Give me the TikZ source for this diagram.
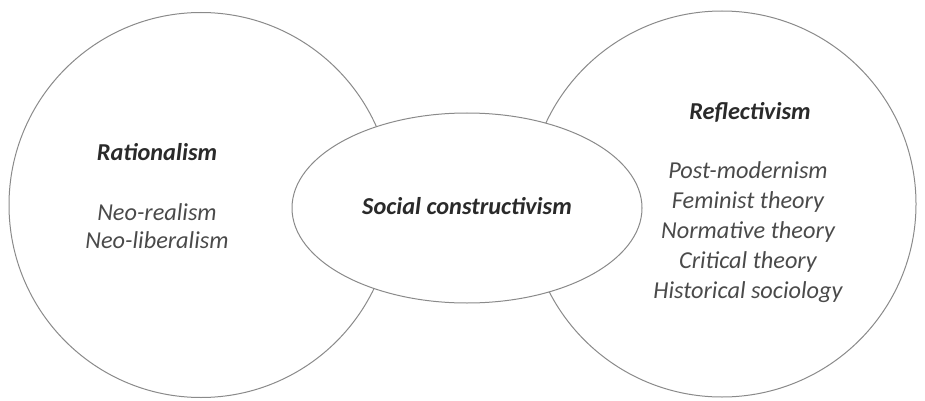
\documentclass[tikz,border=0pt]{standalone}
\usepackage{fontspec}
\setmainfont{Carlito}
\usetikzlibrary{shapes.geometric}
\definecolor{rim}{HTML}{8A8A8A}
\definecolor{headink}{HTML}{2A2A2A}
\definecolor{bodyink}{HTML}{4A4A4A}
\tikzset{
  school/.style={ellipse, draw=rim, line width=1pt, inner sep=0pt},
  head/.style={font=\fontsize{24.3}{28}\selectfont\bfseries\itshape, text=headink, inner sep=0pt},
  members/.style={font=\fontsize{24.3}{#1}\selectfont\itshape, text=bodyink, align=center, inner sep=0pt},
}
\begin{document}
\begin{tikzpicture}[x=1pt, y=-1pt]
  \useasboundingbox (0,0) rectangle (925,401);
  % the two outer schools
  \node[school, minimum width=384pt, minimum height=385pt] (rat) at (201,205) {};
  \node[school, minimum width=388pt, minimum height=386pt] (refl) at (722,204) {};
  % the bridging school, drawn on top
  \node[school, fill=white, minimum width=350pt, minimum height=190pt] (soc) at (467,208) {};
  \node[head] (socname) at (467,206) {Social constructivism};
  % left contents
  \node[head] (ratname) at (157,152) {Rationalism};
  \node[members=28pt] (ratlist) at (157,226) {Neo-realism\\Neo-liberalism};
  % right contents
  \node[head] (reflname) at (750,112) {Reflectivism};
  \node[members=30pt] (refllist) at (748,232) {Post-modernism\\Feminist theory\\Normative theory\\Critical theory\\Historical sociology};
\end{tikzpicture}
\end{document}
